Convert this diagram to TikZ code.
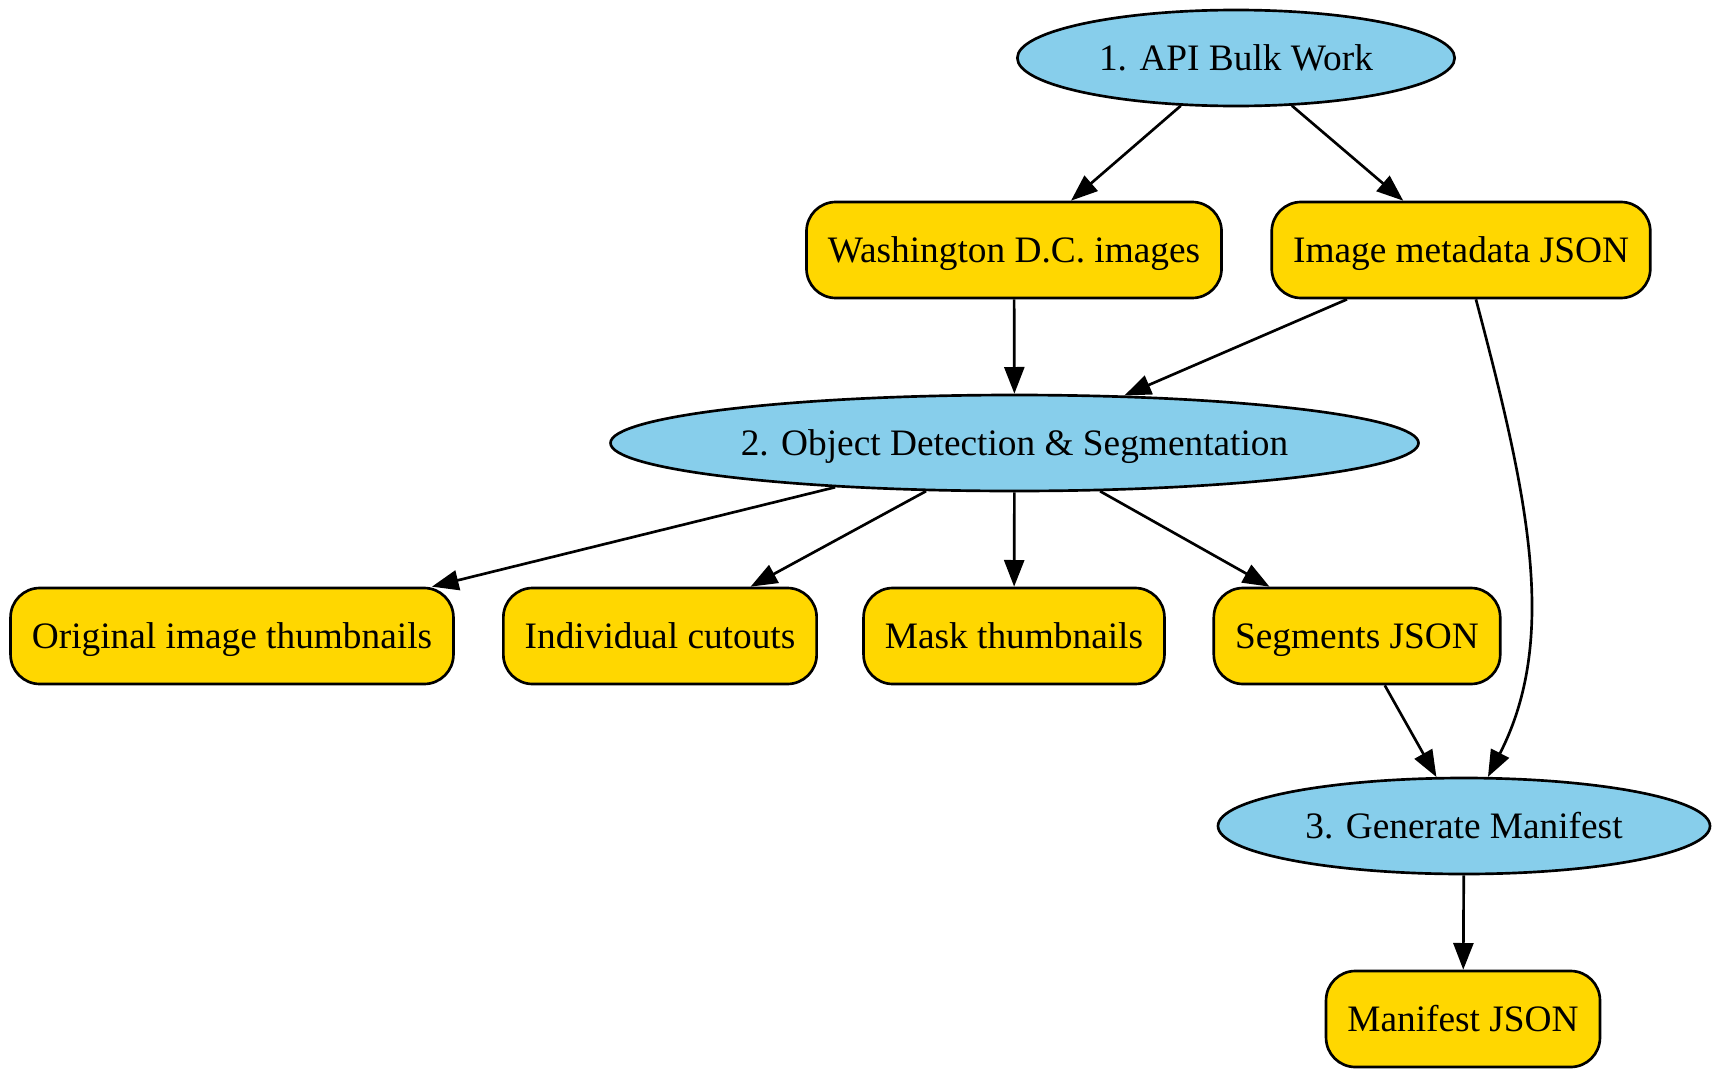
\documentclass[tikz,border=0pt]{standalone}
\usepackage{fontspec}
\setmainfont{Liberation Serif}
\usetikzlibrary{arrows.meta,shapes.geometric}
\definecolor{skyb}{RGB}{135,206,235}
\definecolor{goldy}{RGB}{255,215,0}
\begin{document}
\begin{tikzpicture}[x=0.375pt,y=-0.375pt,
  stage/.style={ellipse,draw=black,line width=1pt,fill=skyb,inner sep=0pt,
    minimum height=36pt,text height=11pt,text depth=1.5pt,font=\fontsize{14pt}{16pt}\selectfont},
  product/.style={rectangle,rounded corners=11pt,draw=black,line width=1pt,fill=goldy,
    inner xsep=8pt,inner ysep=0pt,minimum height=36pt,text height=11pt,text depth=1.5pt,
    font=\fontsize{14pt}{16pt}\selectfont},
  edge/.style={line width=1pt,-{Triangle[length=10pt,width=7.5pt]}}]
\useasboundingbox (0,0) rectangle (1720,1078);
\node[stage,minimum width=164pt] (e1) at (1236,58) {1. API Bulk Work};
\node[product] (wash) at (1014,250) {Washington D.C. images};
\node[product] (meta) at (1461,250) {Image metadata JSON};
\node[stage,minimum width=303pt] (e2) at (1014.5,443) {2. Object Detection \& Segmentation};
\node[product] (orig) at (232,636) {Original image thumbnails};
\node[product] (indiv) at (660,636) {Individual cutouts};
\node[product] (mask) at (1014,636) {Mask thumbnails};
\node[product] (seg) at (1357,636) {Segments JSON};
\node[stage,minimum width=184.5pt] (e3) at (1464,826) {3. Generate Manifest};
\node[product] (man) at (1463,1019) {Manifest JSON};

\draw[edge] (e1) -- (wash);
\draw[edge] (e1) -- (meta);
\draw[edge] (wash) -- (e2);
\draw[edge] (meta) -- (e2);
\draw[edge] (e2) -- (orig);
\draw[edge] (e2) -- (indiv);
\draw[edge] (e2) -- (mask);
\draw[edge] (e2) -- (seg);
\draw[edge] (seg) -- (e3);
\draw[edge] ([xshift=5.6pt]meta.south) .. controls (1528,496) and (1559,638) .. (e3.64);
\draw[edge] (e3) -- (man);
\end{tikzpicture}
\end{document}
